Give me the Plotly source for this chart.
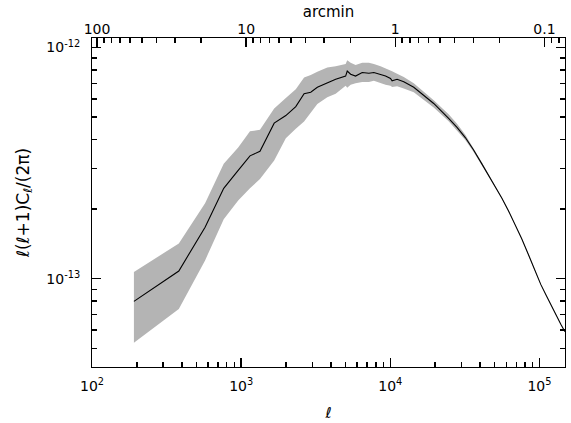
import math
import plotly.graph_objects as go

# multipole bins
ell = [191, 382, 573, 764, 955, 1146, 1337, 1665, 1993, 2324, 2642, 2928, 3241,
       3780, 4303, 5017, 5143, 5420, 5850, 6478, 7184, 7757, 8601, 9290, 10030,
       10280, 11100, 12310, 14360, 16740, 19540, 24600, 28000, 31820, 36000,
       41080, 45500, 50500, 56000, 61940, 69000, 76030, 84000, 93450, 102000,
       111700, 121000, 130300, 139000, 148300]

# mean l(l+1)Cl/(2pi)
mean = [7.98e-14, 1.08e-13, 1.67e-13, 2.46e-13, 2.94e-13, 3.40e-13, 3.56e-13,
        4.71e-13, 5.08e-13, 5.55e-13, 6.31e-13, 6.41e-13, 6.73e-13, 7.06e-13,
        7.29e-13, 7.53e-13, 7.92e-13, 7.67e-13, 7.53e-13, 7.80e-13, 7.74e-13,
        7.80e-13, 7.67e-13, 7.53e-13, 7.35e-13, 7.18e-13, 7.29e-13, 7.11e-13,
        6.73e-13, 6.21e-13, 5.73e-13, 4.94e-13, 4.52e-13, 4.08e-13, 3.62e-13,
        3.14e-13, 2.81e-13, 2.51e-13, 2.23e-13, 1.97e-13, 1.71e-13, 1.49e-13,
        1.28e-13, 1.075e-13, 9.45e-14, 8.40e-14, 7.55e-14, 6.90e-14, 6.35e-14,
        5.89e-14]

# upper / lower edges of the scatter band
upper = [1.07e-13, 1.42e-13, 2.12e-13, 3.14e-13, 3.70e-13, 4.34e-13, 4.41e-13,
         5.45e-13, 6.05e-13, 6.60e-13, 7.42e-13, 7.60e-13, 7.85e-13, 8.20e-13,
         8.31e-13, 8.50e-13, 8.81e-13, 8.60e-13, 8.40e-13, 8.60e-13, 8.59e-13,
         8.50e-13, 8.30e-13, 8.15e-13, 7.95e-13, 7.90e-13, 7.70e-13, 7.45e-13,
         7.00e-13, 6.45e-13, 5.92e-13, 5.15e-13, 4.68e-13, 4.20e-13, 3.70e-13,
         3.19e-13, 2.84e-13, 2.53e-13, 2.24e-13, 1.98e-13, 1.72e-13, 1.495e-13,
         1.284e-13, 1.078e-13, 9.48e-14, 8.42e-14, 7.57e-14, 6.92e-14, 6.37e-14,
         5.91e-14]
lower = [5.29e-14, 7.39e-14, 1.20e-13, 1.81e-13, 2.18e-13, 2.46e-13, 2.70e-13,
         3.25e-13, 4.05e-13, 4.45e-13, 4.79e-13, 5.20e-13, 5.70e-13, 6.10e-13,
         6.31e-13, 6.84e-13, 6.70e-13, 6.90e-13, 7.00e-13, 7.10e-13, 7.10e-13,
         7.18e-13, 7.00e-13, 6.90e-13, 6.84e-13, 6.75e-13, 6.80e-13, 6.65e-13,
         6.40e-13, 5.95e-13, 5.50e-13, 4.80e-13, 4.38e-13, 3.98e-13, 3.55e-13,
         3.09e-13, 2.78e-13, 2.49e-13, 2.22e-13, 1.96e-13, 1.70e-13, 1.485e-13,
         1.276e-13, 1.072e-13, 9.42e-14, 8.38e-14, 7.53e-14, 6.88e-14, 6.33e-14,
         5.87e-14]

x_ticks = [100, 1000, 10000, 100000]
x_ticktext = ["10<sup>2</sup>", "10<sup>3</sup>", "10<sup>4</sup>", "10<sup>5</sup>"]
top_ticks = [100, 10, 1, 0.1]
top_ticktext = ["100", "10", "1", "0.1"]
y_ticks = [1e-13, 1e-12]
y_ticktext = ["10<sup>-13</sup>", "10<sup>-12</sup>"]

ELL_MIN, ELL_MAX = 100, 148300
Y_MIN, Y_MAX = 4.15e-14, 1.10e-12
ARCMIN_PER_INV_ELL = 10800.0

FONT = dict(family="DejaVu Sans, Arial, sans-serif", size=14, color="black")
TFONT = dict(family="DejaVu Sans, Arial, sans-serif", size=15, color="black")
YTFONT = dict(family="DejaVu Sans, Arial, sans-serif", size=17, color="black")

MAJOR_LEN = 9
MINOR_LEN = 5
TICK_W = 1.5


def minor_vals(lo, hi):
    vals = []
    e = math.floor(math.log10(lo)) - 1
    while 10 ** e <= hi * 10:
        for k in range(2, 10):
            v = k * 10 ** e
            if lo <= v <= hi:
                vals.append(v)
        e += 1
    return vals


arcmin = [ARCMIN_PER_INV_ELL / l for l in ell]
x_range = [math.log10(ELL_MIN), math.log10(ELL_MAX)]
top_range = [math.log10(ARCMIN_PER_INV_ELL / ELL_MIN),
             math.log10(ARCMIN_PER_INV_ELL / ELL_MAX)]
y_range = [math.log10(Y_MIN), math.log10(Y_MAX)]

fig = go.Figure()
fig.add_trace(go.Scatter(
    x=ell + ell[::-1], y=upper + lower[::-1], fill="toself",
    fillcolor="#b4b4b4", line=dict(width=0), mode="lines",
    hoverinfo="skip", showlegend=False))
fig.add_trace(go.Scatter(
    x=ell, y=mean, mode="lines", line=dict(color="black", width=1.1),
    showlegend=False))

# invisible helper traces so that the overlay (top / minor-tick) axes are drawn
invisible = dict(mode="lines", line=dict(width=0), opacity=0,
                 hoverinfo="skip", showlegend=False)
fig.add_trace(go.Scatter(x=arcmin, y=mean, xaxis="x2", yaxis="y", **invisible))
fig.add_trace(go.Scatter(x=ell, y=mean, xaxis="x3", yaxis="y", **invisible))
fig.add_trace(go.Scatter(x=arcmin, y=mean, xaxis="x4", yaxis="y", **invisible))
fig.add_trace(go.Scatter(x=ell, y=mean, xaxis="x", yaxis="y2", **invisible))
fig.add_trace(go.Scatter(x=ell, y=mean, xaxis="x", yaxis="y3", **invisible))

axis_common = dict(
    showline=True, linecolor="black", linewidth=1, showgrid=False,
    zeroline=False, ticks="inside", ticklen=MAJOR_LEN, tickcolor="black",
    tickwidth=TICK_W, tickfont=FONT,
)
minor_axis = dict(
    showline=False, showgrid=False, zeroline=False, ticks="inside",
    ticklen=MINOR_LEN, tickcolor="black", tickwidth=TICK_W,
    showticklabels=False, tickmode="array",
)

fig.update_layout(
    width=571, height=423,
    margin=dict(l=92, r=5, t=38, b=49),
    paper_bgcolor="white", plot_bgcolor="white",
    font=FONT,
    xaxis=dict(
        type="log", range=x_range,
        tickmode="array", tickvals=x_ticks, ticktext=x_ticktext,
        title=dict(text="<i>ℓ</i>", font=TFONT, standoff=14),
        ticklabelstandoff=6,
        **axis_common),
    xaxis2=dict(
        type="log", overlaying="x", side="top", anchor="y",
        range=top_range,
        tickmode="array", tickvals=top_ticks, ticktext=top_ticktext,
        title=dict(text="arcmin", font=TFONT, standoff=0),
        ticklabelstandoff=-3,
        **axis_common),
    xaxis3=dict(type="log", overlaying="x", side="bottom", anchor="y",
                range=x_range, tickvals=minor_vals(ELL_MIN, ELL_MAX),
                **minor_axis),
    xaxis4=dict(type="log", overlaying="x", side="top", anchor="y",
                range=top_range,
                tickvals=minor_vals(ARCMIN_PER_INV_ELL / ELL_MAX,
                                    ARCMIN_PER_INV_ELL / ELL_MIN),
                **minor_axis),
    yaxis=dict(
        type="log", range=y_range,
        tickmode="array", tickvals=y_ticks, ticktext=y_ticktext,
        mirror="ticks",
        title=dict(text="ℓ(ℓ+1)C<sub>ℓ</sub>/(2π)", font=YTFONT, standoff=12),
        ticklabelstandoff=8,
        **axis_common),
    yaxis2=dict(type="log", overlaying="y", side="left", anchor="x",
                range=y_range, tickvals=minor_vals(Y_MIN, Y_MAX),
                **minor_axis),
    yaxis3=dict(type="log", overlaying="y", side="right", anchor="x",
                range=y_range, tickvals=minor_vals(Y_MIN, Y_MAX),
                **minor_axis),
)

fig.write_html(
    "out.html",
    config={"displayModeBar": False, "staticPlot": True},
    post_script="document.body.style.margin='0';document.body.style.padding='0';",
)
